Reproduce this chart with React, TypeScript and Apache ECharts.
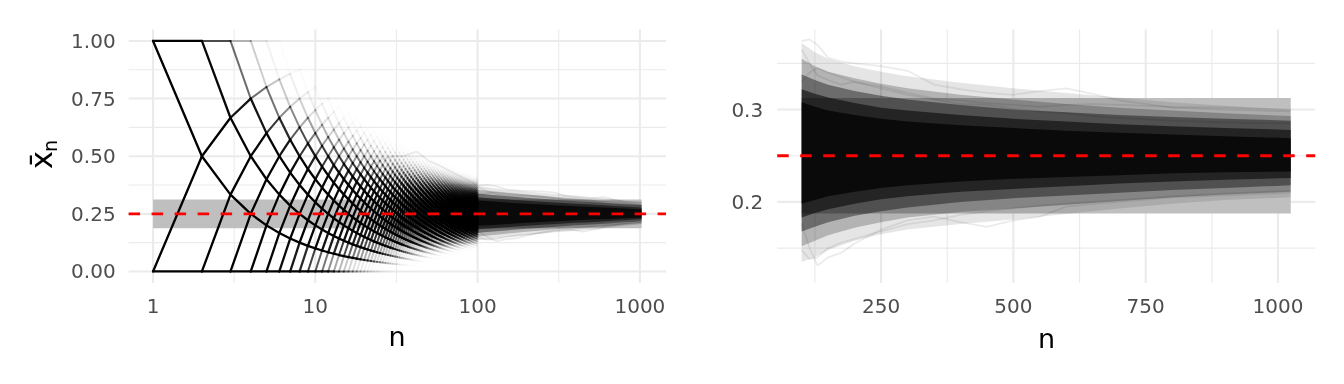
import React, { useEffect, useRef } from "react";
import * as echarts from "echarts";

// ---------- ticks ----------
const LEFT_X_LABELS = [1, 10, 100, 1000];
const LEFT_X_MINOR = [3.162, 31.62, 316.2];
const LEFT_Y_LABELS = [0, 0.25, 0.5, 0.75, 1];
const LEFT_Y_MINOR = [0.125, 0.375, 0.625, 0.875];
const RIGHT_X_LABELS = [250, 500, 750, 1000];
const RIGHT_X_MINOR = [125, 375, 625, 875];
const RIGHT_Y_LABELS = [0.2, 0.3];
const RIGHT_Y_MINOR = [0.15, 0.25, 0.35];

// ---------- reference values ----------
const TRUE_MEAN = 0.25;
const BAND_Y = [0.1875, 0.3125];
const BAND_N_LEFT = [1, 1024];
const BAND_N_RIGHT = [100, 1024];

// ---------- lattice of running means (n = 1 .. LATTICE_LAST_N) ----------
const N_PATHS = 1000;
const PATH_ALPHA = 0.07;
const LATTICE_LAST_N = 100;

// ---------- cloud envelopes (n >= 100), faint -> dark ----------
const CLOUD_N = [100, 125, 150, 200, 250, 300, 400, 500, 600, 700, 800, 900, 1024];
const L1_HI = [0.372, 0.362, 0.355, 0.347, 0.341, 0.336, 0.329, 0.323, 0.318, 0.313, 0.308, 0.304, 0.3];
const L1_LO = [0.135, 0.14, 0.148, 0.158, 0.165, 0.17, 0.176, 0.181, 0.187, 0.193, 0.198, 0.202, 0.205];
const L2_HI = [0.355, 0.347, 0.341, 0.334, 0.328, 0.323, 0.316, 0.311, 0.306, 0.302, 0.299, 0.296, 0.293];
const L2_LO = [0.152, 0.158, 0.164, 0.172, 0.178, 0.183, 0.189, 0.193, 0.197, 0.201, 0.205, 0.208, 0.211];
const L3_HI = [0.338, 0.332, 0.327, 0.32, 0.315, 0.311, 0.305, 0.3, 0.297, 0.294, 0.292, 0.29, 0.288];
const L3_LO = [0.168, 0.173, 0.178, 0.185, 0.19, 0.194, 0.2, 0.204, 0.207, 0.21, 0.213, 0.215, 0.218];
const L4_HI = [0.322, 0.317, 0.313, 0.307, 0.302, 0.299, 0.294, 0.29, 0.287, 0.284, 0.282, 0.28, 0.278];
const L4_LO = [0.183, 0.188, 0.192, 0.198, 0.203, 0.206, 0.211, 0.214, 0.217, 0.22, 0.222, 0.224, 0.226];
const L5_HI = [0.308, 0.303, 0.299, 0.294, 0.29, 0.287, 0.283, 0.28, 0.277, 0.275, 0.273, 0.271, 0.269];
const L5_LO = [0.198, 0.202, 0.206, 0.211, 0.215, 0.218, 0.222, 0.225, 0.227, 0.229, 0.231, 0.232, 0.233];

// ---------- faint outlying paths ----------
const OUTLIER_N = [20, 25, 30, 35, 42, 50, 58, 70, 85, 100, 115, 130, 150, 175, 200, 250, 300, 350, 400, 450, 500, 550, 600, 650, 700, 800, 900, 1024];
const PATH_A = [0.45, 0.48, 0.5, 0.5, 0.52, 0.48, 0.46, 0.43, 0.4, 0.374, 0.376, 0.37, 0.356, 0.352, 0.35, 0.347, 0.342, 0.327, 0.322, 0.318, 0.316, 0.32, 0.323, 0.317, 0.31, 0.302, 0.3, 0.298];
const PATH_B = [null, null, null, null, null, null, null, null, null, 0.365, 0.35, 0.337, 0.332, 0.327, 0.33, 0.323, 0.316, 0.311, 0.306, 0.305, 0.301, 0.298, 0.296, 0.293, 0.291, 0.288, 0.286, 0.285];
const PATH_C = [null, null, null, null, null, null, null, null, null, 0.177, 0.15, 0.131, 0.14, 0.145, 0.155, 0.17, 0.18, 0.184, 0.178, 0.173, 0.18, 0.184, 0.195, 0.198, 0.2, 0.205, 0.207, 0.21];
const PATH_D = [null, null, null, null, null, null, null, null, null, 0.148, 0.138, 0.14, 0.15, 0.156, 0.16, 0.168, 0.176, 0.18, 0.186, 0.19, 0.193, 0.196, 0.198, 0.2, 0.202, 0.206, 0.209, 0.212];
const PATH_F = [null, null, null, null, null, null, null, null, null, 0.33, 0.34, 0.345, 0.34, 0.335, 0.33, 0.325, 0.318, 0.312, 0.31, 0.307, 0.305, 0.303, 0.305, 0.306, 0.305, 0.303, 0.302, 0.3];
const OUTLIERS = [PATH_A, PATH_B, PATH_C, PATH_D, PATH_F];

const FONT = "DejaVu Sans";
const GRID_COLOR = "#EBEBEB";
const LABEL_COLOR = "#4D4D4D";

function buildLattice(): number[][] {
  const p = TRUE_MEAN;
  const q = 1 - p;
  let probs = [q, p];
  const segs: number[][] = [];
  for (let n = 1; n < LATTICE_LAST_N; n++) {
    const next = new Array(n + 2).fill(0);
    for (let j = 0; j <= n; j++) {
      const pj = probs[j];
      next[j] += pj * q;
      next[j + 1] += pj * p;
      const o0 = 1 - Math.pow(1 - PATH_ALPHA, N_PATHS * pj * q);
      const o1 = 1 - Math.pow(1 - PATH_ALPHA, N_PATHS * pj * p);
      if (o0 > 0.004) segs.push([n, j / n, n + 1, j / (n + 1), o0]);
      if (o1 > 0.004) segs.push([n, j / n, n + 1, (j + 1) / (n + 1), o1]);
    }
    probs = next;
  }
  return segs;
}

function gridSeries(idx: number, xs: number[], xsMinor: number[], ys: number[], ysMinor: number[], xDummy: number, yDummy: number) {
  const data: number[][] = [];
  xs.forEach((v) => data.push([v, yDummy, 0]));
  xsMinor.forEach((v) => data.push([v, yDummy, 1]));
  ys.forEach((v) => data.push([xDummy, v, 2]));
  ysMinor.forEach((v) => data.push([xDummy, v, 3]));
  return {
    type: "custom",
    xAxisIndex: idx,
    yAxisIndex: idx,
    z: 0,
    silent: true,
    encode: { x: 0, y: 1 },
    data,
    renderItem: (params: any, api: any) => {
      const cs = params.coordSys;
      const kind = api.value(2);
      const pt = api.coord([api.value(0), api.value(1)]);
      const w = kind === 0 || kind === 2 ? 2.1 : 1.1;
      if (kind < 2) {
        return { type: "line", shape: { x1: pt[0], y1: cs.y, x2: pt[0], y2: cs.y + cs.height }, style: { stroke: GRID_COLOR, lineWidth: w } };
      }
      return { type: "line", shape: { x1: cs.x, y1: pt[1], x2: cs.x + cs.width, y2: pt[1] }, style: { stroke: GRID_COLOR, lineWidth: w } };
    },
  };
}

function bandSeries(idx: number, ns: number[]) {
  return {
    type: "custom",
    xAxisIndex: idx,
    yAxisIndex: idx,
    z: 1,
    silent: true,
    encode: { x: [0, 1], y: [2, 3] },
    data: [[ns[0], ns[1], BAND_Y[0], BAND_Y[1]]],
    renderItem: (params: any, api: any) => {
      const a = api.coord([api.value(0), api.value(3)]);
      const b = api.coord([api.value(1), api.value(2)]);
      return { type: "rect", shape: { x: a[0], y: a[1], width: b[0] - a[0], height: b[1] - a[1] }, style: { fill: "#BFBFBF" } };
    },
  };
}

const LEVELS = [
  { hi: L1_HI, lo: L1_LO, a: 0.1 },
  { hi: L2_HI, lo: L2_LO, a: 0.22 },
  { hi: L3_HI, lo: L3_LO, a: 0.4 },
  { hi: L4_HI, lo: L4_LO, a: 0.55 },
  { hi: L5_HI, lo: L5_LO, a: 0.72 },
];

function cloudSeries(idx: number) {
  return {
    type: "custom",
    xAxisIndex: idx,
    yAxisIndex: idx,
    z: 2,
    silent: true,
    encode: { x: 0, y: 1 },
    data: LEVELS.map((_, k) => [CLOUD_N[0], TRUE_MEAN, k]),
    renderItem: (params: any, api: any) => {
      const lv = LEVELS[api.value(2)];
      const pts: number[][] = [];
      for (let i = 0; i < CLOUD_N.length; i++) pts.push(api.coord([CLOUD_N[i], lv.hi[i]]));
      for (let i = CLOUD_N.length - 1; i >= 0; i--) pts.push(api.coord([CLOUD_N[i], lv.lo[i]]));
      return { type: "polygon", shape: { points: pts }, style: { fill: `rgba(0,0,0,${lv.a})` } };
    },
  };
}

function outlierSeries(idx: number, minN: number) {
  return OUTLIERS.map((path) => ({
    type: "line",
    xAxisIndex: idx,
    yAxisIndex: idx,
    z: 2,
    silent: true,
    symbol: "none",
    lineStyle: { color: "rgba(0,0,0,0.08)", width: 1.8 },
    data: OUTLIER_N.map((n, i) => [n, path[i]]).filter((d) => d[0] >= minN && d[1] !== null),
  }));
}

function hlineSeries(idx: number, xDummy: number) {
  return {
    type: "custom",
    xAxisIndex: idx,
    yAxisIndex: idx,
    z: 5,
    silent: true,
    encode: { x: 0, y: 1 },
    data: [[xDummy, TRUE_MEAN]],
    renderItem: (params: any, api: any) => {
      const cs = params.coordSys;
      const pt = api.coord([api.value(0), api.value(1)]);
      return { type: "line", shape: { x1: cs.x, y1: pt[1], x2: cs.x + cs.width, y2: pt[1] }, style: { stroke: "#FF0000", lineWidth: 2.8, lineDash: [11.5, 11.5] } };
    },
  };
}

export default function App() {
  const ref = useRef<HTMLDivElement>(null);
  useEffect(() => {
    document.body.style.margin = "0";
    if (!ref.current) return;
    const chart = echarts.init(ref.current, null, { renderer: "svg" });
    const lattice = buildLattice();

    const axisCommon = {
      axisLine: { show: false },
      axisTick: { show: false },
      splitLine: { show: false },
      minorSplitLine: { show: false },
    };

    const option: any = {
      animation: false,
      textStyle: { fontFamily: FONT },
      grid: [
        { left: 128.6, top: 29.4, width: 537.4, height: 253.6 },
        { left: 777.2, top: 29.4, width: 538, height: 253.6 },
      ],
      xAxis: [
        {
          type: "log",
          logBase: 10,
          gridIndex: 0,
          min: 0.7069,
          max: 1448.3,
          ...axisCommon,
          axisLabel: { customValues: LEFT_X_LABELS, formatter: (v: number) => String(Math.round(v)), color: LABEL_COLOR, fontSize: 20, fontFamily: FONT, margin: 22.5, verticalAlign: "middle" },
        },
        {
          type: "value",
          gridIndex: 1,
          min: 53.8,
          max: 1070.2,
          ...axisCommon,
          axisLabel: { customValues: RIGHT_X_LABELS, formatter: (v: number) => String(v), color: LABEL_COLOR, fontSize: 20, fontFamily: FONT, margin: 22.5, verticalAlign: "middle" },
        },
      ],
      yAxis: [
        {
          type: "value",
          gridIndex: 0,
          min: -0.05,
          max: 1.05,
          ...axisCommon,
          axisLabel: { customValues: LEFT_Y_LABELS, formatter: (v: number) => v.toFixed(2), color: LABEL_COLOR, fontSize: 20, fontFamily: FONT, margin: 13 },
        },
        {
          type: "value",
          gridIndex: 1,
          min: 0.1122,
          max: 0.3868,
          ...axisCommon,
          axisLabel: { customValues: RIGHT_Y_LABELS, formatter: (v: number) => v.toFixed(1), color: LABEL_COLOR, fontSize: 20, fontFamily: FONT, margin: 14 },
        },
      ],
      graphic: [
        { type: "text", x: 397, y: 336, style: { text: "n", font: `27px "${FONT}"`, fill: "#000", align: "center", verticalAlign: "middle" } },
        { type: "text", x: 1046.5, y: 338, style: { text: "n", font: `27px "${FONT}"`, fill: "#000", align: "center", verticalAlign: "middle" } },
        { type: "text", x: 41, y: 160, rotation: Math.PI / 2, style: { text: "x\u0304", font: `31px "${FONT}"`, fill: "#000", align: "center", verticalAlign: "middle" } },
        { type: "text", x: 50, y: 146, rotation: Math.PI / 2, style: { text: "n", font: `19px "${FONT}"`, fill: "#000", align: "center", verticalAlign: "middle" } },
      ],
      series: [
        gridSeries(0, LEFT_X_LABELS, LEFT_X_MINOR, LEFT_Y_LABELS, LEFT_Y_MINOR, 10, 0.5),
        bandSeries(0, BAND_N_LEFT),
        {
          type: "custom",
          xAxisIndex: 0,
          yAxisIndex: 0,
          z: 2,
          silent: true,
          progressive: 0,
          encode: { x: [0, 2], y: [1, 3] },
          data: lattice,
          renderItem: (params: any, api: any) => {
            const a = api.coord([api.value(0), api.value(1)]);
            const b = api.coord([api.value(2), api.value(3)]);
            const op = api.value(4);
            return { type: "line", shape: { x1: a[0], y1: a[1], x2: b[0], y2: b[1] }, style: { stroke: `rgba(0,0,0,${op.toFixed(3)})`, lineWidth: op > 0.8 ? 2.3 : 2.0, lineCap: "round" } };
          },
        },
        cloudSeries(0),
        ...outlierSeries(0, 0),
        hlineSeries(0, 10),

        gridSeries(1, RIGHT_X_LABELS, RIGHT_X_MINOR, RIGHT_Y_LABELS, RIGHT_Y_MINOR, 500, 0.25),
        bandSeries(1, BAND_N_RIGHT),
        cloudSeries(1),
        ...outlierSeries(1, 100),
        hlineSeries(1, 500),
      ],
    };
    chart.setOption(option);
    return () => chart.dispose();
  }, []);
  return <div ref={ref} style={{ position: "fixed", left: 0, top: 0, width: 1344, height: 384 }} />;
}
